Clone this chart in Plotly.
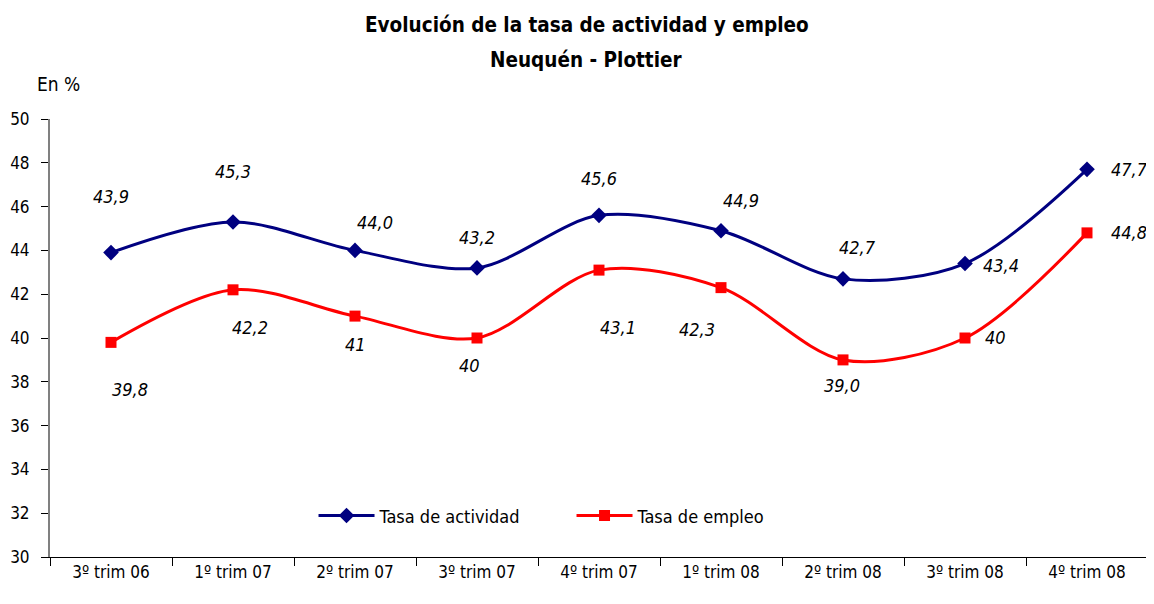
import plotly.graph_objects as go

categories = ["3º trim 06", "1º trim 07", "2º trim 07", "3º trim 07", "4º trim 07",
              "1º trim 08", "2º trim 08", "3º trim 08", "4º trim 08"]
actividad = [43.9, 45.3, 44.0, 43.2, 45.6, 44.9, 42.7, 43.4, 47.7]
empleo = [39.8, 42.2, 41.0, 40.0, 43.1, 42.3, 39.0, 40.0, 44.8]
actividad_labels = ["43,9", "45,3", "44,0", "43,2", "45,6", "44,9", "42,7", "43,4", "47,7"]
empleo_labels = ["39,8", "42,2", "41", "40", "43,1", "42,3", "39,0", "40", "44,8"]

# label offsets in pixels (x, y) relative to point
act_off = [(0, 56), (0, 50), (20, 28), (0, 30), (0, 37), (20, 30), (14, 31), (36, -2), (42, 0)]
emp_off = [(19, -47), (17, -38), (0, -28), (-8, -27), (19, -57), (-24, -42), (-1, -26), (30, 1), (42, 0)]

FONT = "Liberation Sans Narrow, Arial Narrow, DejaVu Sans Condensed, sans-serif"

fig = go.Figure()
fig.add_trace(go.Scatter(
    x=categories, y=actividad, name="Tasa de actividad", mode="lines+markers",
    line=dict(color="#000080", width=3, shape="spline", smoothing=0.9),
    marker=dict(symbol="diamond", size=12, color="#000080")))
fig.add_trace(go.Scatter(
    x=categories, y=empleo, name="Tasa de empleo", mode="lines+markers",
    line=dict(color="#FF0000", width=3, shape="spline", smoothing=0.9),
    marker=dict(symbol="square", size=11, color="#FF0000")))

for cats, vals, labs, offs in [(categories, actividad, actividad_labels, act_off),
                               (categories, empleo, empleo_labels, emp_off)]:
    for c, v, l, (dx, dy) in zip(cats, vals, labs, offs):
        fig.add_annotation(x=c, y=v, text="<i>" + l + "</i>", showarrow=False,
                           xshift=dx, yshift=dy,
                           font=dict(family=FONT, size=18, color="#000000"))

fig.add_annotation(xref="paper", yref="paper", x=-0.0137, y=1.08, xanchor="left", yanchor="middle",
                   text="En %", showarrow=False, font=dict(family=FONT, size=19, color="#000000"))
fig.add_annotation(xref="paper", yref="paper", x=0.489, y=1.2146, xanchor="center", yanchor="middle",
                   text="<b>Evolución de la tasa de actividad y empleo</b>", showarrow=False,
                   font=dict(family=FONT, size=20.5, color="#000000"))
fig.add_annotation(xref="paper", yref="paper", x=0.489, y=1.1347, xanchor="center", yanchor="middle",
                   text="<b>Neuquén - Plottier</b>", showarrow=False,
                   font=dict(family=FONT, size=20.5, color="#000000"))

fig.update_layout(
    width=1146, height=596,
    margin=dict(l=42, r=6, t=111, b=47, autoexpand=False),
    paper_bgcolor="white", plot_bgcolor="white",
    font=dict(family=FONT, size=17, color="#000000"),
    showlegend=True,
    legend=dict(orientation="h", x=0.24, xanchor="left", y=0.094, yanchor="middle",
                bgcolor="rgba(0,0,0,0)", font=dict(family=FONT, size=18),
                itemwidth=56, entrywidth=187, tracegroupgap=0),
    xaxis=dict(type="category", range=[-0.5, 8.5], showgrid=False, showline=True,
               linecolor="#000000", linewidth=1, ticks="outside", tickson="boundaries",
               ticklen=8, tickcolor="#000000", tickfont=dict(size=17), zeroline=False,
               automargin=False),
    yaxis=dict(range=[30, 50], dtick=2, showgrid=False, showline=True, linecolor="#808080",
               linewidth=2, ticks="outside", ticklen=7, tickcolor="#000000",
               ticklabelstandoff=8, tickfont=dict(size=17), zeroline=False, automargin=False),
)

fig.write_html("out.html")
